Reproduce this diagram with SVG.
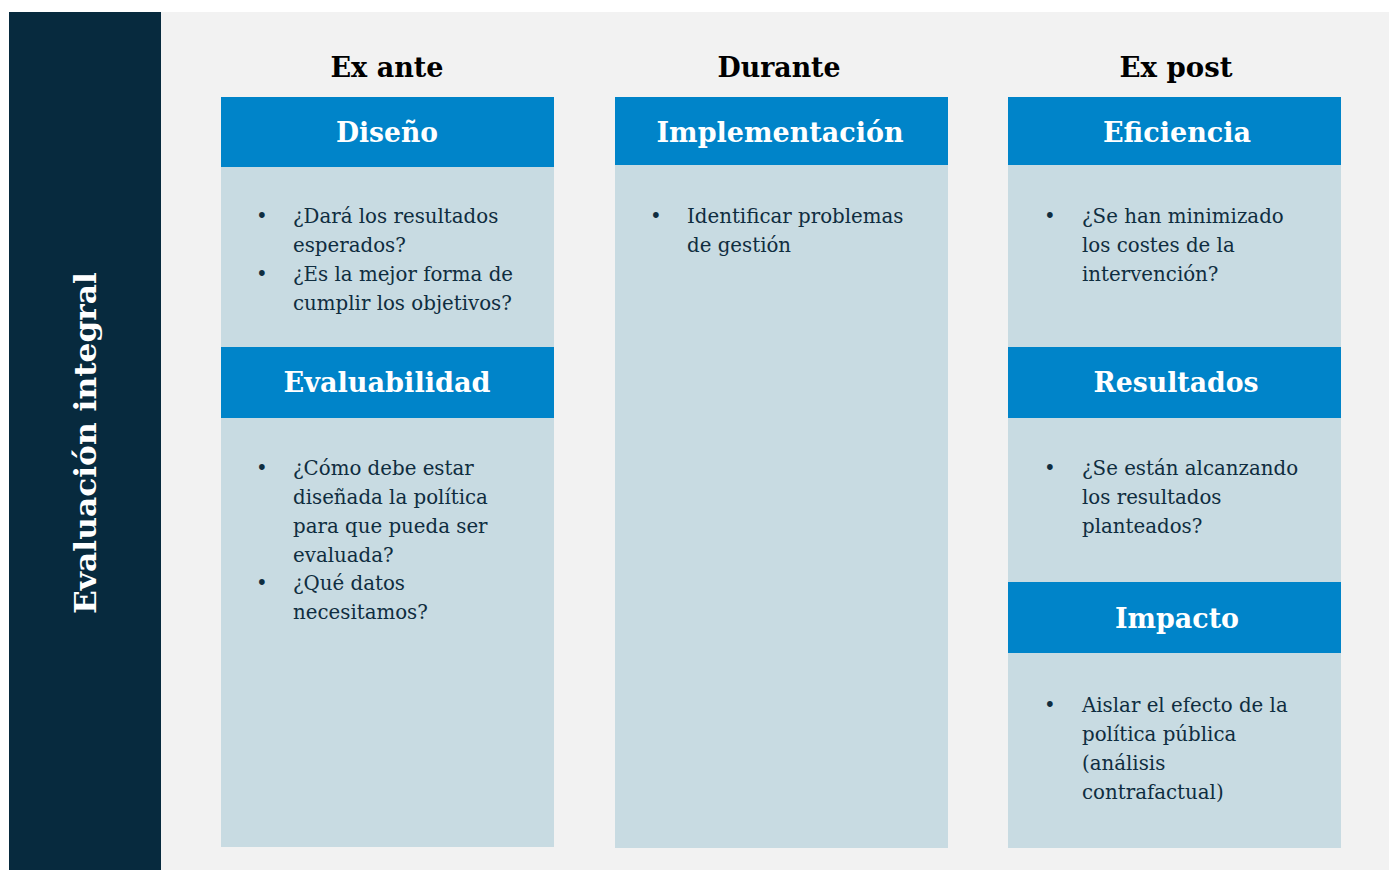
<svg xmlns="http://www.w3.org/2000/svg" width="1389" height="870" viewBox="0 0 1389 870">
<style>
.hd{fill:#0084C9}
.bd{fill:#C8DBE2}
.ht{font-family:"DejaVu Serif","Liberation Serif",serif;font-weight:bold;font-size:27px;fill:#ffffff;text-anchor:middle}
.ct{font-family:"DejaVu Serif","Liberation Serif",serif;font-weight:bold;font-size:27px;fill:#000000;text-anchor:middle}
.bt{font-family:"DejaVu Serif","Liberation Serif",serif;font-size:19.8px;fill:#0F2D40}
.side{font-family:"DejaVu Serif","Liberation Serif",serif;font-weight:bold;font-size:30px;fill:#ffffff;text-anchor:middle}
</style>
<rect x="0" y="0" width="1389" height="870" fill="#ffffff"/>
<rect x="161" y="12" width="1228" height="858" fill="#F2F2F2"/>
<g id="side">
<rect x="9" y="12" width="152" height="858" fill="#072A3E"/>
<text class="side" transform="translate(96 443) rotate(-90)" textLength="342" lengthAdjust="spacingAndGlyphs">Evaluación integral</text>
</g>
<g id="titles">
<text class="ct" x="387" y="77" textLength="113" lengthAdjust="spacingAndGlyphs">Ex ante</text>
<text class="ct" x="779" y="77" textLength="123" lengthAdjust="spacingAndGlyphs">Durante</text>
<text class="ct" x="1176" y="77" textLength="113" lengthAdjust="spacingAndGlyphs">Ex post</text>
</g>
<g id="diseno">
<rect class="hd" x="221" y="97" width="333" height="70"/>
<rect class="bd" x="221" y="167" width="333" height="180"/>
<text class="ht" x="387" y="142" textLength="102" lengthAdjust="spacingAndGlyphs">Diseño</text>
<text class="bt" x="256" y="223">•</text>
<text class="bt" x="293" y="223">¿Dará los resultados</text>
<text class="bt" x="293" y="252">esperados?</text>
<text class="bt" x="256" y="281">•</text>
<text class="bt" x="293" y="281">¿Es la mejor forma de</text>
<text class="bt" x="293" y="310">cumplir los objetivos?</text>
</g>
<g id="evaluabilidad">
<rect class="hd" x="221" y="347" width="333" height="71"/>
<rect class="bd" x="221" y="418" width="333" height="429"/>
<text class="ht" x="387" y="392" textLength="207" lengthAdjust="spacingAndGlyphs">Evaluabilidad</text>
<text class="bt" x="256" y="475">•</text>
<text class="bt" x="293" y="475">¿Cómo debe estar</text>
<text class="bt" x="293" y="504">diseñada la política</text>
<text class="bt" x="293" y="533">para que pueda ser</text>
<text class="bt" x="293" y="562">evaluada?</text>
<text class="bt" x="256" y="590">•</text>
<text class="bt" x="293" y="590">¿Qué datos</text>
<text class="bt" x="293" y="619">necesitamos?</text>
</g>
<g id="implementacion">
<rect class="hd" x="615" y="97" width="333" height="68"/>
<rect class="bd" x="615" y="165" width="333" height="683"/>
<text class="ht" x="780" y="142" textLength="247" lengthAdjust="spacingAndGlyphs">Implementación</text>
<text class="bt" x="650" y="223">•</text>
<text class="bt" x="687" y="223">Identificar problemas</text>
<text class="bt" x="687" y="252">de gestión</text>
</g>
<g id="eficiencia">
<rect class="hd" x="1008" y="97" width="333" height="68"/>
<rect class="bd" x="1008" y="165" width="333" height="182"/>
<text class="ht" x="1177" y="142" textLength="148" lengthAdjust="spacingAndGlyphs">Eficiencia</text>
<text class="bt" x="1044" y="223">•</text>
<text class="bt" x="1082" y="223">¿Se han minimizado</text>
<text class="bt" x="1082" y="252">los costes de la</text>
<text class="bt" x="1082" y="281">intervención?</text>
</g>
<g id="resultados">
<rect class="hd" x="1008" y="347" width="333" height="71"/>
<rect class="bd" x="1008" y="418" width="333" height="164"/>
<text class="ht" x="1176" y="392" textLength="165" lengthAdjust="spacingAndGlyphs">Resultados</text>
<text class="bt" x="1044" y="475">•</text>
<text class="bt" x="1082" y="475">¿Se están alcanzando</text>
<text class="bt" x="1082" y="504">los resultados</text>
<text class="bt" x="1082" y="533">planteados?</text>
</g>
<g id="impacto">
<rect class="hd" x="1008" y="582" width="333" height="71"/>
<rect class="bd" x="1008" y="653" width="333" height="195"/>
<text class="ht" x="1177" y="628" textLength="124" lengthAdjust="spacingAndGlyphs">Impacto</text>
<text class="bt" x="1044" y="712">•</text>
<text class="bt" x="1082" y="712">Aislar el efecto de la</text>
<text class="bt" x="1082" y="741">política pública</text>
<text class="bt" x="1082" y="770">(análisis</text>
<text class="bt" x="1082" y="799">contrafactual)</text>
</g>
<g id="connectors"></g>
</svg>
